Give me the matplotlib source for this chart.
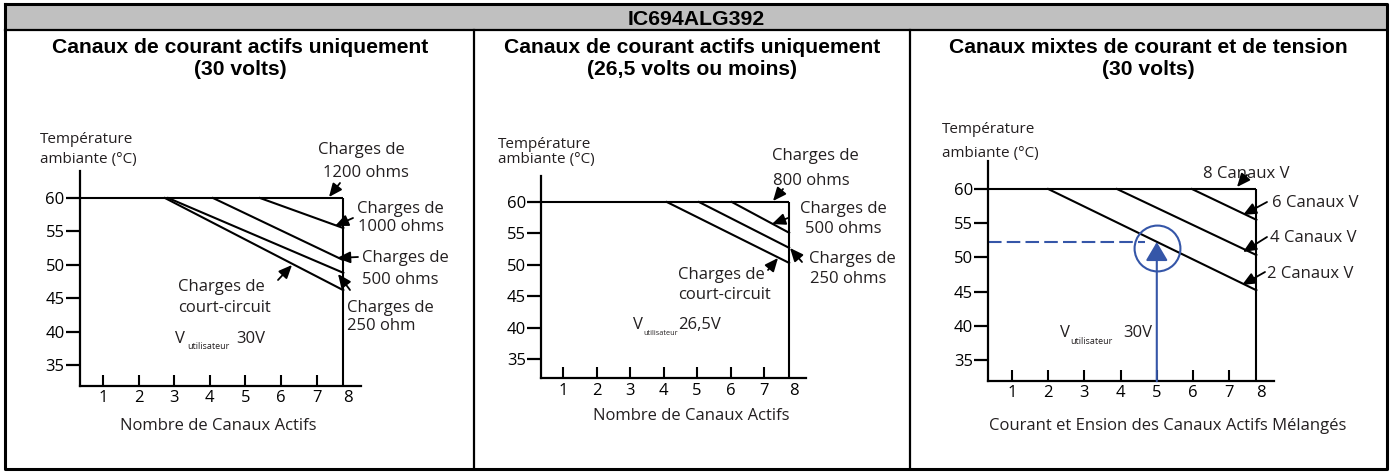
import matplotlib
matplotlib.use('Agg')
import matplotlib.pyplot as plt
from matplotlib.patches import Rectangle

plt.rcParams['font.family'] = ['Open Sans', 'DejaVu Sans']

# ---- values ----
header = 'IC694ALG392'
titles = [('Canaux de courant actifs uniquement', '(30 volts)'),
          ('Canaux de courant actifs uniquement', '(26,5 volts ou moins)'),
          ('Canaux mixtes de courant et de tension', '(30 volts)')]
xlabels = ['Nombre de Canaux Actifs', 'Nombre de Canaux Actifs',
           'Courant et Ension des Canaux Actifs Mélangés']
vuser = ['30V', '26,5V', '30V']

channels = [1, 2, 3, 4, 5, 6, 7, 8]
temps = [35, 40, 45, 50, 55, 60]
t_max = 60
n_max = 7.75          # the "8 channels" edge as drawn

# derating lines: channel count where they leave 60 C, temp at the 8-channel edge
c1_start = [5.41, 4.09, 2.83, 2.74]
c1_end = [55.5, 50.7, 48.8, 46.2]
c2_start = [6.04, 5.06, 4.1]
c2_end = [55.1, 52.7, 50.3]
c3_start = [5.97, 3.9, 2.0]
c3_end = [55.5, 50.35, 45.2]

# example point on chart 3
ex_n = 5
ex_t = 52.25

W, H = 1391, 472
XLIM = (0.35, 8.25)
YLIM = (31.9, 64.1)
BLUE = '#3556a8'
FS = 12

fig = plt.figure(figsize=(W / 100, H / 100), dpi=100)
bg = fig.add_axes([0, 0, 1, 1])
bg.set_xlim(0, W)
bg.set_ylim(H, 0)
bg.axis('off')

# table frame
bg.add_patch(Rectangle((5, 4), 1382, 26, facecolor='#c0c0c0', edgecolor='none'))
bg.plot([5, 1387, 1387, 5, 5], [4, 4, 469, 469, 4], color='black', lw=2.2)
bg.plot([5, 1387], [30, 30], color='black', lw=1.6)
for xc in [474, 910]:
    bg.plot([xc, xc], [30, 469], color='black', lw=1.6)
bg.text(696, 25, header, ha='center', va='baseline', fontsize=15.3,
        fontweight='bold', family='Liberation Sans')

col_mid = [240, 692, 1148.5]
for (t1, t2), cx in zip(titles, col_mid):
    bg.text(cx, 53, t1, ha='center', va='baseline', fontsize=15.2,
            fontweight='bold', family='Liberation Sans')
    bg.text(cx, 75, t2, ha='center', va='baseline', fontsize=15.2,
            fontweight='bold', family='Liberation Sans')

# pixel placement of each chart: x of "1", px per channel, y of 60 C, px per degree
charts_px = [(103, 35.6, 198, 6.68), (563, 33.5, 202, 6.28), (1012, 36.2, 189, 6.84)]


def make_chart(x1, sx, y60, sy):
    left = x1 + (XLIM[0] - 1) * sx
    right = x1 + (XLIM[1] - 1) * sx
    top = y60 - (YLIM[1] - 60) * sy
    bottom = y60 + (60 - YLIM[0]) * sy
    ax = fig.add_axes([left / W, 1 - bottom / H, (right - left) / W, (bottom - top) / H])
    ax.set_xlim(*XLIM)
    ax.set_ylim(*YLIM)
    ax.patch.set_visible(False)
    for s in ['top', 'right']:
        ax.spines[s].set_visible(False)
    for s in ['left', 'bottom']:
        ax.spines[s].set_linewidth(1.6)
    pos = channels[:-1] + [n_max + 0.13]
    ax.set_xticks(pos)
    ax.set_xticklabels([str(c) for c in channels])
    ax.xaxis.get_major_ticks()[-1].tick1line.set_visible(False)
    ax.set_yticks(temps)
    ax.set_yticklabels([str(t) for t in temps])
    ax.tick_params(axis='x', direction='in', length=8, width=1.5, pad=3, labelsize=FS)
    ax.tick_params(axis='y', direction='out', length=10, width=1.6, pad=1, labelsize=FS)
    # flat 60 C limit and the 8-channel edge
    ax.plot([XLIM[0], n_max], [t_max, t_max], color='black', lw=1.5, solid_capstyle='butt')
    ax.plot([n_max, n_max], [YLIM[0], t_max], color='black', lw=1.5, solid_capstyle='butt')
    return ax


axes = [make_chart(*p) for p in charts_px]
for ax, starts, ends in zip(axes, [c1_start, c2_start, c3_start], [c1_end, c2_end, c3_end]):
    for s, e in zip(starts, ends):
        ax.plot([s, n_max], [t_max, e], color='black', lw=1.5)

# example on chart 3
ax3 = axes[2]
ax3.plot([XLIM[0], 4.67], [ex_t, ex_t], color=BLUE, lw=1.5, dashes=(6.5, 2.5))
ax3.plot([ex_n], [51.4], marker='o', ms=33, mfc='none', mec=BLUE, mew=1.5)
ax3.annotate('', xy=(ex_n, ex_t), xytext=(ex_n, YLIM[0]),
             arrowprops=dict(arrowstyle='-|>,head_length=1.15,head_width=0.68',
                             mutation_scale=10, color=BLUE, lw=1.5,
                             shrinkA=0, shrinkB=0))


def txt(x, y, s, size=FS, **kw):
    bg.text(x, y, s, ha='left', va='baseline', fontsize=size, color='#231f20', **kw)


def arrow(tail, tip):
    bg.annotate('', xy=tip, xytext=tail,
                arrowprops=dict(arrowstyle='-|>,head_length=0.8,head_width=0.35',
                                mutation_scale=10, color='black', lw=1.3,
                                shrinkA=0, shrinkB=0))


# y axis caption
for x, b1, b2 in [(40, 143, 163), (498, 148, 163), (942, 133, 157)]:
    txt(x, b1, 'Température', size=11)
    txt(x, b2, 'ambiante (°C)', size=11)

# x axis captions
for cx, b, s in [(218, 430, xlabels[0]), (691, 420, xlabels[1]), (1168, 430, xlabels[2])]:
    bg.text(cx, b, s, ha='center', va='baseline', fontsize=FS, color='#231f20')

# V utilisateur
for (xv, bv, xs, bs, xn, ss), s in zip([(175, 343, 187, 349, 236, 6.5),
                                        (633, 329, 643, 335, 678, 5.2),
                                        (1060, 337, 1070, 344, 1123, 6.5)], vuser):
    txt(xv, bv, 'V')
    txt(xs, bs, 'utilisateur', size=ss)
    txt(xn, bv, s)

# chart 1 labels
txt(318, 154, 'Charges de'); txt(323, 177, '1200 ohms')
txt(357, 213, 'Charges de'); txt(358, 231, '1000 ohms')
txt(362, 262, 'Charges de'); txt(362, 284, '500 ohms')
txt(347, 312, 'Charges de'); txt(347, 330, '250 ohm')
txt(178, 291, 'Charges de'); txt(178, 312, 'court-circuit')
arrow((340, 183), (329, 197))
arrow((353, 218), (335, 226))
arrow((358, 257), (337, 258))
arrow((350, 290), (338, 274))
arrow((278, 280), (292, 265))

# chart 2 labels
txt(772, 160, 'Charges de'); txt(773, 185, '800 ohms')
txt(800, 213, 'Charges de'); txt(805, 233, '500 ohms')
txt(809, 263, 'Charges de'); txt(810, 283, '250 ohms')
txt(678, 279, 'Charges de'); txt(678, 299, 'court-circuit')
arrow((783, 189), (773, 201))
arrow((788, 218), (772, 224))
arrow((802, 262), (790, 248))
arrow((768, 270), (778, 258))

# chart 3 labels
txt(1203, 178, '8 Canaux V')
txt(1272, 207, '6 Canaux V')
txt(1270, 242, '4 Canaux V')
txt(1267, 278, '2 Canaux V')
arrow((1247, 175), (1237, 187))
arrow((1267, 202), (1243, 215))
arrow((1267, 237), (1243, 252))
arrow((1265, 272), (1242, 285))

fig.savefig('out.png', dpi=100)
